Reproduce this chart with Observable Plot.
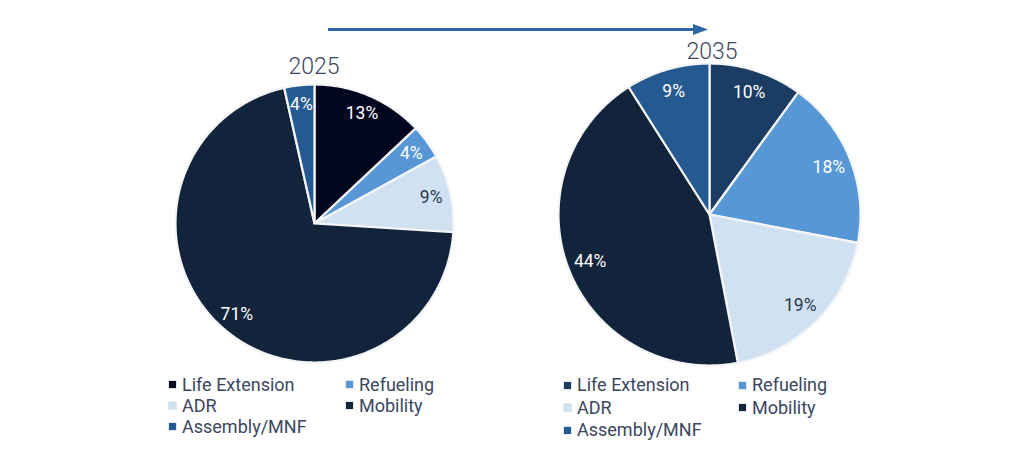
<!DOCTYPE html>
<html>
<head>
<meta charset="utf-8">
<script src="https://cdn.jsdelivr.net/npm/d3@7"></script>
<script src="https://cdn.jsdelivr.net/npm/@observablehq/plot@0.6"></script>
<style>
  html, body { margin: 0; padding: 0; background: #fff; }
  body { width: 1024px; height: 466px; position: relative; overflow: hidden; font-family: Roboto, "Noto Sans", sans-serif; color: #3a4660; }
  .abs { position: absolute; }
  .title { font-size: 23px; font-weight: 300; color: #3a4660; transform: translateX(-50%); line-height: 1; }
  .legend { display: grid; grid-template-columns: auto auto; column-gap: 0; font-size: 18px; font-weight: 400; }
  .item { display: flex; align-items: center; white-space: nowrap; }
  .sw { width: 7px; height: 7px; margin-right: 6px; outline: 1.5px solid #e6e9ee; }
</style>
</head>
<body>
<script>
// ---- data ----
const categories = ["Life Extension", "Refueling", "ADR", "Mobility", "Assembly/MNF"];
const values2025 = [13, 4, 9, 70.5, 3.5];
const labels2025 = ["13%", "4%", "9%", "71%", "4%"];
const values2035 = [10, 18, 19, 44, 9];
const labels2035 = ["10%", "18%", "19%", "44%", "9%"];
const colors2025 = ["#03061f", "#5797d6", "#d0e1f2", "#12243b", "#245a91"];
const colors2035 = ["#1b3d63", "#5797d6", "#d0e1f2", "#12243b", "#245a91"];
const labelColors = ["#ffffff", "#ffffff", "#2c3550", "#ffffff", "#ffffff"];
const years = ["2025", "2035"];

function pieChart(values, labels, colors, radius, labelR) {
  const arcs = d3.pie().sort(null).value(d => d)(values);
  const pts = [];
  const lab = [];
  arcs.forEach((a, i) => {
    const cat = categories[i];
    pts.push({cat, x: 0, y: 0});
    const n = Math.max(2, Math.ceil((a.endAngle - a.startAngle) / 0.01));
    for (let k = 0; k <= n; k++) {
      const t = a.startAngle + (a.endAngle - a.startAngle) * k / n;
      pts.push({cat, x: Math.sin(t), y: Math.cos(t)});
    }
    pts.push({cat, x: 0, y: 0});
    const m = (a.startAngle + a.endAngle) / 2;
    lab.push({cat, x: labelR * Math.sin(m), y: labelR * Math.cos(m), text: labels[i], col: labelColors[i]});
  });
  const pad = 3;
  const size = 2 * radius + 2 * pad;
  return Plot.plot({
    width: size, height: size, margin: pad,
    x: {domain: [-1, 1], axis: null},
    y: {domain: [-1, 1], axis: null},
    color: {domain: categories, range: colors},
    style: {background: "transparent", overflow: "visible"},
    marks: [
      Plot.line(pts, {x: "x", y: "y", z: "cat", fill: "cat", stroke: "#f4f5f7", strokeWidth: 2.2, strokeLinejoin: "round", curve: "linear"}),
      Plot.text(lab, {x: "x", y: "y", text: "text", fill: d => d.col, fontSize: 17.5, fontFamily: "Roboto, sans-serif"})
    ]
  });
}

function legend(colors, left, top, col2, lh) {
  const div = document.createElement("div");
  div.className = "abs legend";
  div.style.left = left + "px";
  div.style.top = top + "px";
  div.style.lineHeight = lh + "px";
  div.style.gridTemplateColumns = col2 + "px auto";
  categories.forEach((c, i) => {
    const it = document.createElement("div");
    it.className = "item";
    const sw = document.createElement("span");
    sw.className = "sw";
    sw.style.background = colors[i];
    it.appendChild(sw);
    it.appendChild(document.createTextNode(c));
    div.appendChild(it);
  });
  document.body.appendChild(div);
}

function place(el, left, top) {
  el.classList.add("abs");
  el.style.left = left + "px";
  el.style.top = top + "px";
  document.body.appendChild(el);
}

// Pies
const p1 = pieChart(values2025, labels2025, colors2025, 139, 0.86);
place(p1, 314 - 139 - 3, 223 - 139 - 3);
const p2 = pieChart(values2035, labels2035, colors2035, 151, 0.85);
place(p2, 709 - 151 - 3, 214 - 151 - 3);

// Titles
[[years[0], 314, 55], [years[1], 712, 40]].forEach(([t, x, y]) => {
  const d = document.createElement("div");
  d.className = "abs title";
  d.style.left = x + "px";
  d.style.top = y + "px";
  d.textContent = t;
  document.body.appendChild(d);
});

// Arrow
const ns = "http://www.w3.org/2000/svg";
const svg = document.createElementNS(ns, "svg");
svg.setAttribute("width", 400);
svg.setAttribute("height", 20);
svg.style.position = "absolute";
svg.style.left = "320px";
svg.style.top = "19px";
svg.innerHTML = '<line x1="8" y1="10.5" x2="375" y2="10.5" stroke="#2e65a3" stroke-width="3"/><polygon points="373,5 388,10.5 373,16" fill="#2e65a3"/>';
document.body.appendChild(svg);

// Legends
legend(colors2025, 169, 374, 177, 21);
legend(colors2035, 564, 374, 175, 22.5);
</script>
</body>
</html>
